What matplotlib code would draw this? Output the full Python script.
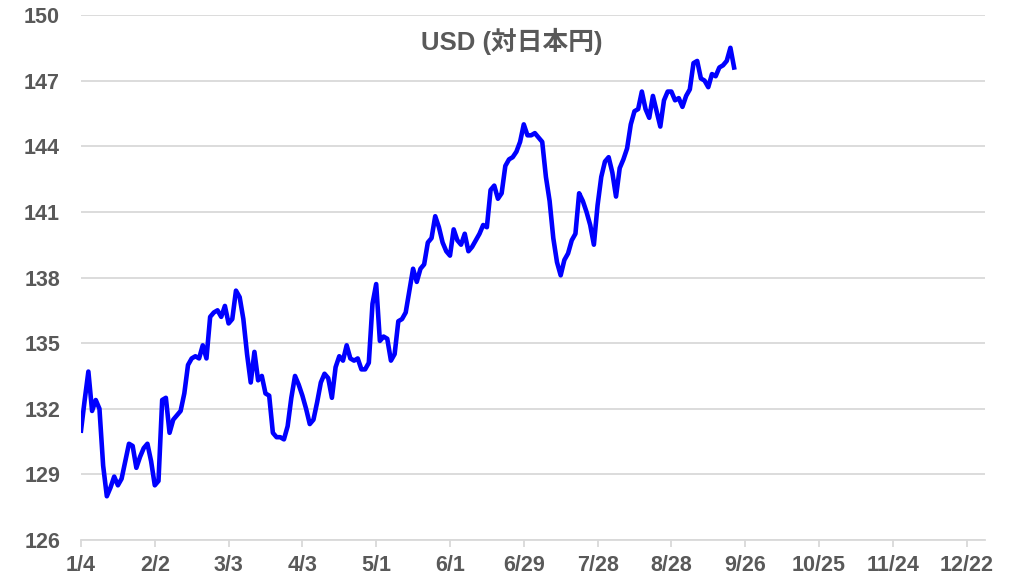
import numpy as np
import matplotlib
matplotlib.use("Agg")
import matplotlib.pyplot as plt

plt.rcParams['font.family'] = ['Liberation Sans Narrow', 'Liberation Sans', 'Noto Sans CJK JP', 'DejaVu Sans']

# daily USD/JPY, one value per trading day from 1/4
usd_jpy = [
    131.0, 132.4, 133.7, 131.9, 132.4, 132.0, 129.4, 128.0, 128.4, 128.9,
    128.5, 128.8, 129.6, 130.4, 130.3, 129.3, 129.8, 130.2, 130.4, 129.6,
    128.5, 128.7, 132.4, 132.5, 130.9, 131.5, 131.7, 131.9, 132.7, 134.0,
    134.3, 134.4, 134.3, 134.9, 134.3, 136.2, 136.4, 136.5, 136.2, 136.7,
    135.9, 136.1, 137.4, 137.1, 136.1, 134.5, 133.2, 134.6, 133.3, 133.5,
    132.7, 132.6, 130.9, 130.7, 130.7, 130.6, 131.2, 132.5, 133.5, 133.1,
    132.6, 132.0, 131.3, 131.5, 132.3, 133.2, 133.6, 133.4, 132.5, 133.9,
    134.4, 134.2, 134.9, 134.3, 134.2, 134.3, 133.8, 133.8, 134.1, 136.8,
    137.7, 135.1, 135.3, 135.2, 134.2, 134.5, 136.0, 136.1, 136.4, 137.4,
    138.4, 137.8, 138.4, 138.6, 139.6, 139.8, 140.8, 140.3, 139.6, 139.2,
    139.0, 140.2, 139.7, 139.5, 140.0, 139.2, 139.4, 139.7, 140.0, 140.4,
    140.3, 142.0, 142.2, 141.6, 141.85, 143.1, 143.4, 143.5, 143.75, 144.2,
    145.0, 144.5, 144.5, 144.6, 144.4, 144.2, 142.6, 141.5, 139.8, 138.7,
    138.1, 138.8, 139.1, 139.7, 140.0, 141.85, 141.5, 141.0, 140.4, 139.5,
    141.3, 142.6, 143.3, 143.5, 142.8, 141.7, 143.0, 143.4, 143.9, 145.0,
    145.6, 145.7, 146.5, 145.7, 145.3, 146.3, 145.6, 144.9, 146.1, 146.5,
    146.5, 146.1, 146.2, 145.8, 146.3, 146.6, 147.8, 147.9, 147.1, 147.0,
    146.7, 147.3, 147.2, 147.6, 147.7, 147.9, 148.5, 147.6,
]

tick_pos = [0, 20, 40, 60, 80, 100, 120, 140, 160, 180, 200, 220, 240]
tick_labels = ["1/4", "2/2", "3/3", "4/3", "5/1", "6/1", "6/29", "7/28",
               "8/28", "9/26", "10/25", "11/24", "12/22"]
y_ticks = np.arange(126, 151, 3)

grey = "#595959"
gridc = "#d9d9d9"

fig = plt.figure(figsize=(10.24, 5.81), dpi=100)
ax = fig.add_axes([81/1024, 41/581, (985-81)/1024, 525/581])

ax.plot(np.arange(len(usd_jpy)), usd_jpy, color="#0000ff", linewidth=3.3,
        solid_joinstyle="round", zorder=3)

ax.set_xlim(0, 245)
ax.set_ylim(126, 150)
ax.set_yticks(y_ticks)
ax.set_xticks(tick_pos)
ax.set_xticklabels(tick_labels)
ax.grid(axis="y", color=gridc, linewidth=1.3)
ax.set_axisbelow(True)

for s in ["top", "right", "left"]:
    ax.spines[s].set_visible(False)
ax.spines["bottom"].set_color(gridc)
ax.spines["bottom"].set_linewidth(1.3)

ax.tick_params(axis="y", length=0, pad=28, labelsize=15.5, labelcolor=grey)
ax.tick_params(axis="x", length=5, color=gridc, width=1.3, pad=6,
               labelsize=15.5, labelcolor=grey)
for lab in ax.get_xticklabels() + ax.get_yticklabels():
    lab.set_fontweight("bold")
for lab in ax.get_yticklabels():
    lab.set_horizontalalignment("center")

fig.text(0.5, 0.928, "USD (対日本円)", ha="center", va="center",
         fontsize=18.5, fontweight="bold", color=grey)

plt.savefig("out.png", dpi=100)
